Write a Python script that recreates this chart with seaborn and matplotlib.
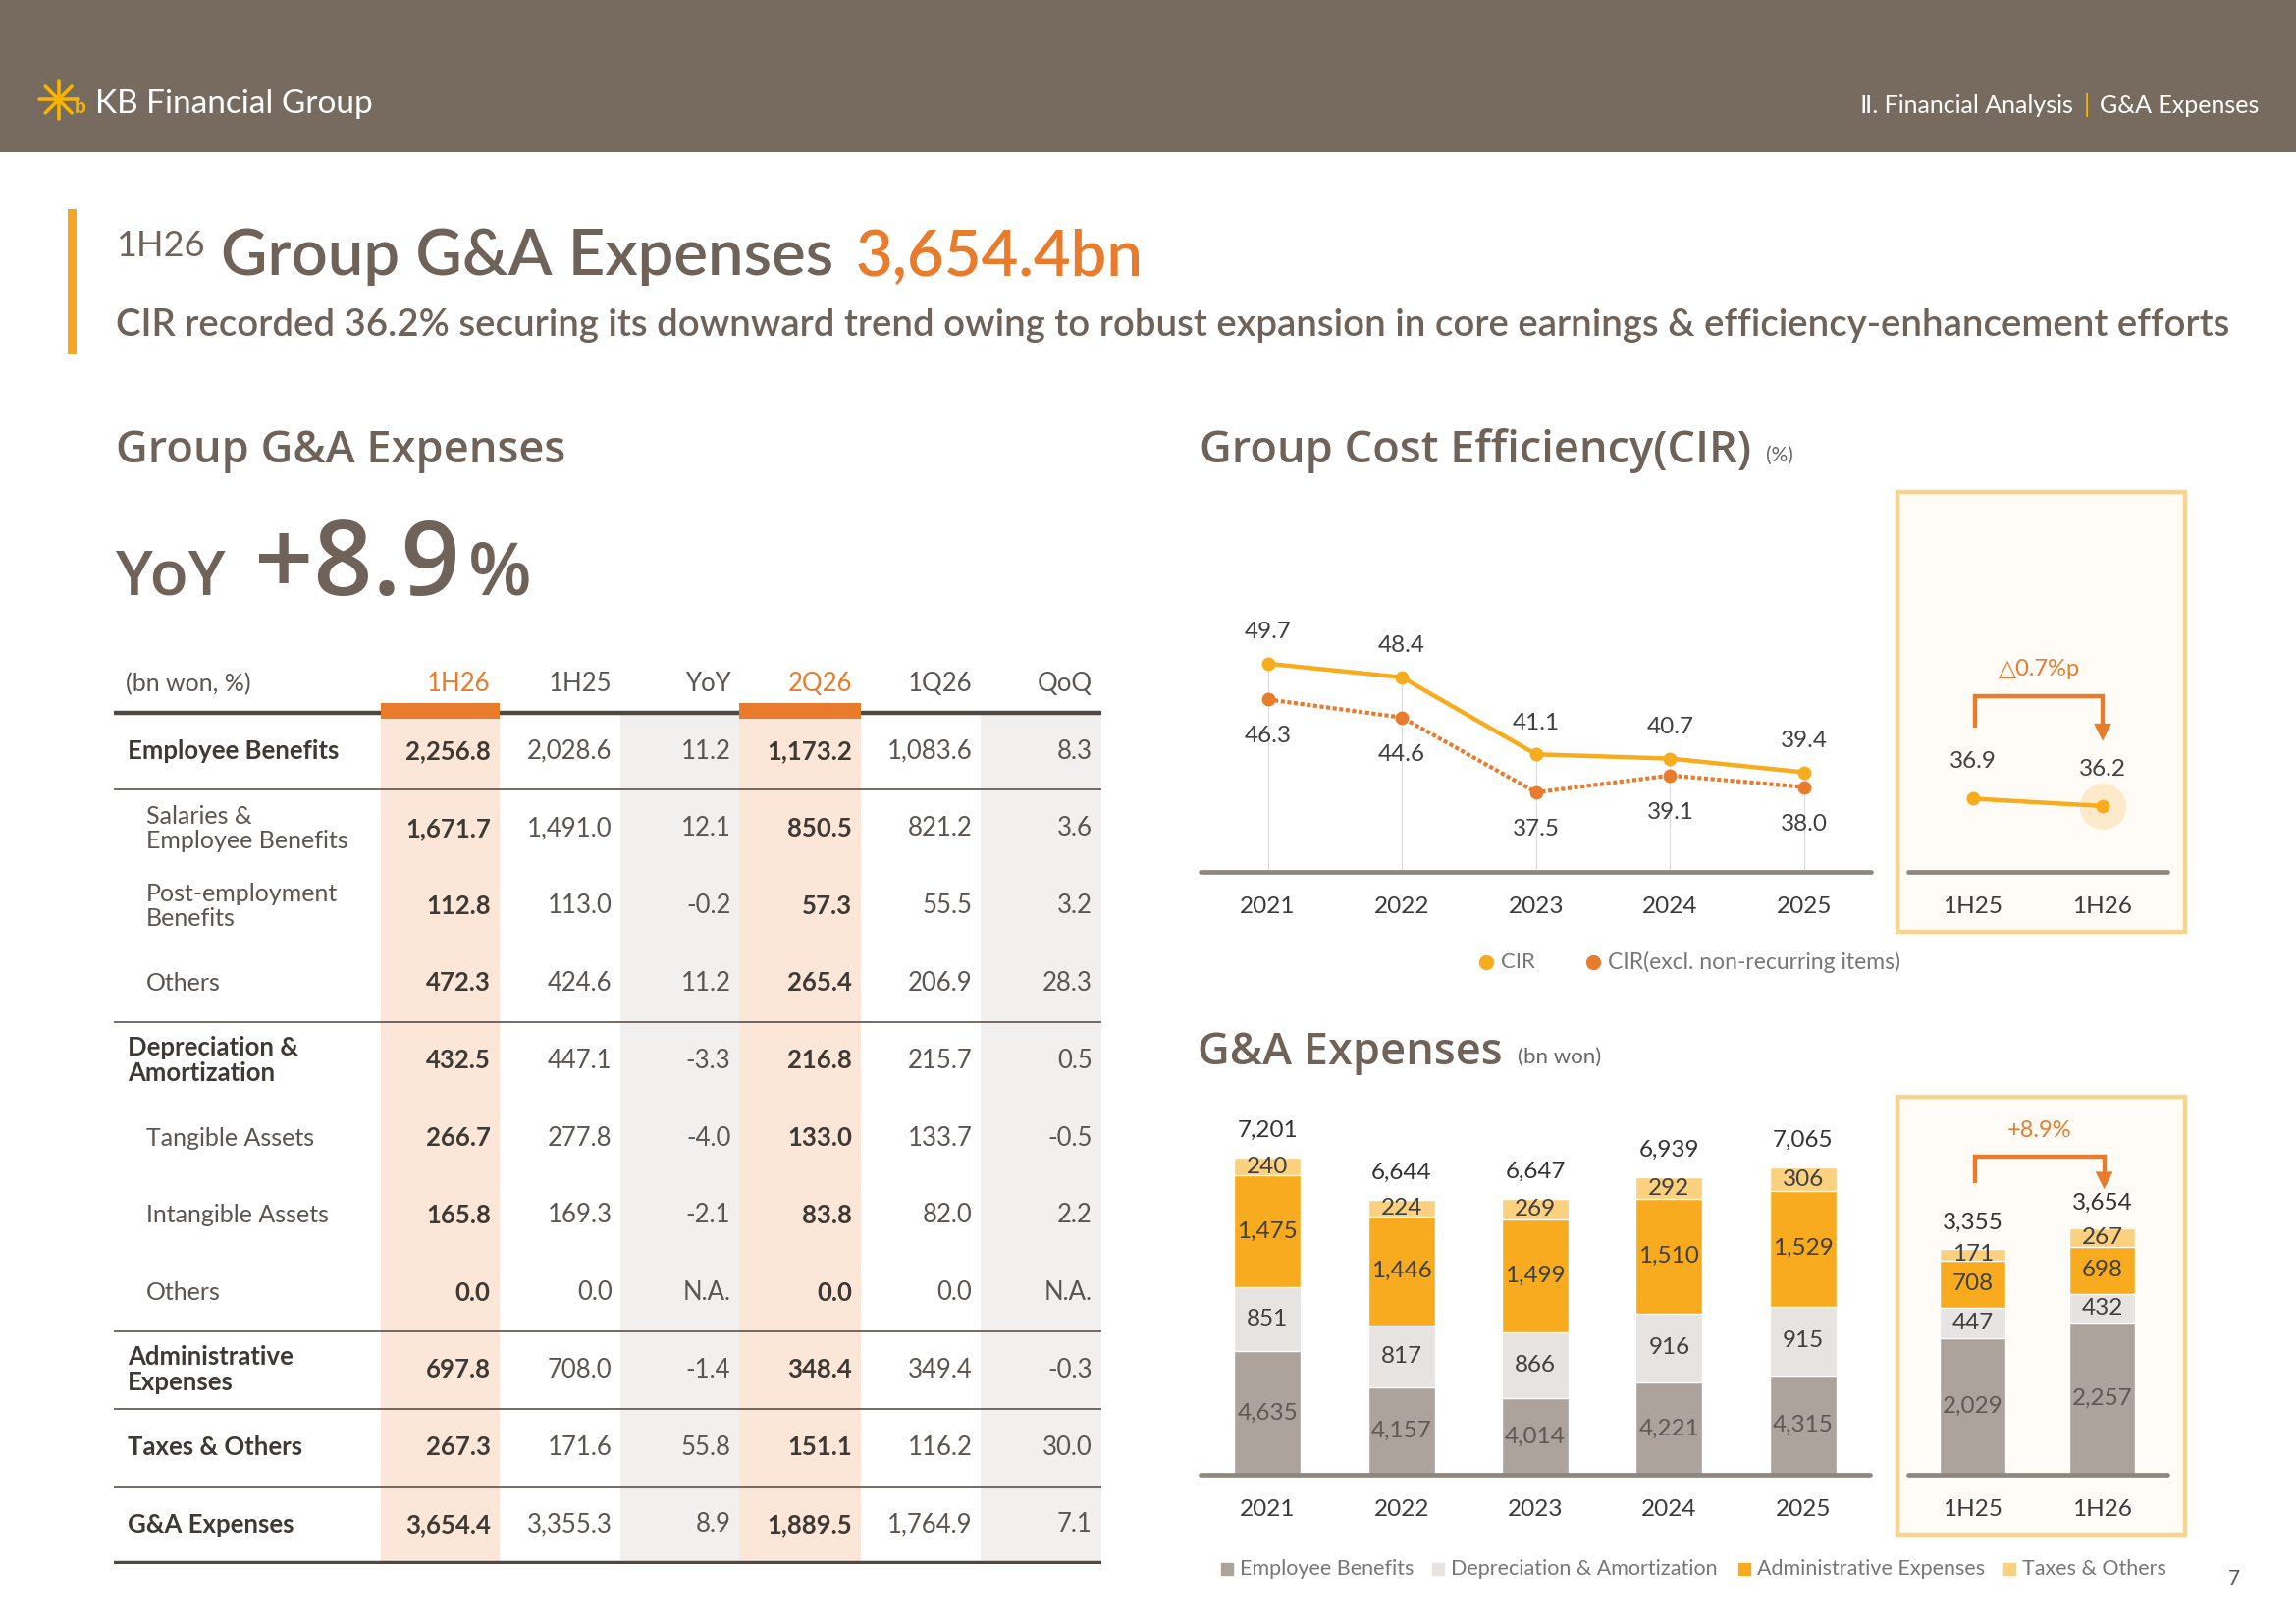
import numpy as np
import pandas as pd
import seaborn as sns
import matplotlib.pyplot as plt
from matplotlib.patches import Rectangle

# ---- data ----
years = ['2021', '2022', '2023', '2024', '2025']
cir = [49.7, 48.4, 41.1, 40.7, 39.4]
cir_excl = [46.3, 44.6, 37.5, 39.1, 38.0]
half_labels = ['1H25', '1H26']
cir_half = [36.9, 36.2]

emp_benefits = [4635, 4157, 4014, 4221, 4315]
depreciation = [851, 817, 866, 916, 915]
admin_exp = [1475, 1446, 1499, 1510, 1529]
taxes_others = [240, 224, 269, 292, 306]
totals = [7201, 6644, 6647, 6939, 7065]

half_emp = [2029, 2257]
half_dep = [447, 432]
half_admin = [708, 698]
half_taxes = [171, 267]
half_totals = [3355, 3654]

table_cols = ['1H26', '1H25', 'YoY', '2Q26', '1Q26', 'QoQ']
table_rows = ['Employee Benefits', 'Salaries &\nEmployee Benefits', 'Post-employment\nBenefits', 'Others',
              'Depreciation &\nAmortization', 'Tangible Assets', 'Intangible Assets', 'Others',
              'Administrative\nExpenses', 'Taxes & Others', 'G&A Expenses']
row_is_main = [True, False, False, False, True, False, False, False, True, True, True]
table_values = [
    ['2,256.8', '2,028.6', '11.2', '1,173.2', '1,083.6', '8.3'],
    ['1,671.7', '1,491.0', '12.1', '850.5', '821.2', '3.6'],
    ['112.8', '113.0', '-0.2', '57.3', '55.5', '3.2'],
    ['472.3', '424.6', '11.2', '265.4', '206.9', '28.3'],
    ['432.5', '447.1', '-3.3', '216.8', '215.7', '0.5'],
    ['266.7', '277.8', '-4.0', '133.0', '133.7', '-0.5'],
    ['165.8', '169.3', '-2.1', '83.8', '82.0', '2.2'],
    ['0.0', '0.0', 'N.A.', '0.0', '0.0', 'N.A.'],
    ['697.8', '708.0', '-1.4', '348.4', '349.4', '-0.3'],
    ['267.3', '171.6', '55.8', '151.1', '116.2', '30.0'],
    ['3,654.4', '3,355.3', '8.9', '1,889.5', '1,764.9', '7.1'],
]

# ---- colours ----
BROWN = '#776B5F'
TITLE = '#6E6259'
ORANGE = '#E97B2C'
YELLOW = '#F6AC1D'
C_EMP, C_DEP, C_ADM, C_TAX = '#ABA39C', '#E6E3E0', '#F8AB1E', '#FBD07F'
DARK = '#3D3935'
MID = '#5A5550'
OPEN = ['Open Sans', 'DejaVu Sans']

sns.set_style('white')
plt.rcParams['font.family'] = ['Lato', 'DejaVu Sans']

W, H = 1568, 1108.8
fig = plt.figure(figsize=(23.39, 16.54), dpi=100)
renderer = fig.canvas.get_renderer()


def add_ax(x0, y0, x1, y1):
    return fig.add_axes([x0 / W, 1 - y1 / H, (x1 - x0) / W, (y1 - y0) / H])


bg = fig.add_axes([0, 0, 1, 1])
bg.set_xlim(0, W)
bg.set_ylim(H, 0)
bg.axis('off')


def edges(t):
    bb = t.get_window_extent(renderer)
    inv = bg.transData.inverted()
    return inv.transform((bb.x0, bb.y0))[0], inv.transform((bb.x1, bb.y0))[0]


def after(t, gap, y, s, **kw):
    return bg.text(edges(t)[1] + gap, y, s, va='baseline', **kw)


def before(t, gap, y, s, **kw):
    return bg.text(edges(t)[0] - gap, y, s, va='baseline', ha='right', **kw)


# header band
bg.add_patch(Rectangle((0, 0), W, 104, color=BROWN, lw=0))
for dx, dy in [(-13, 0), (-9, -9), (-9, 9), (0, -13)]:
    bg.plot([40 - dx, 40 + dx], [68 - dy, 68 + dy], color='#F7B500', lw=2.6, solid_capstyle='round')
bg.text(51, 73, 'b', color='#F7B500', fontsize=15, fontweight='bold', va='center')
bg.text(65, 77, 'KB Financial Group', color='white', fontsize=24, va='baseline')
t = bg.text(1543, 77, 'G&A Expenses', color='white', fontsize=18, va='baseline', ha='right')
t = before(t, 7, 77, '|', color='#F7B500', fontsize=18)
before(t, 7, 77, 'Ⅱ. Financial Analysis', color='white', fontsize=18)

# headline
bg.add_patch(Rectangle((46, 143), 6, 99, color='#F5A623', lw=0))
t = bg.text(79, 175, '1H26', color=TITLE, fontsize=26, va='baseline')
t = after(t, 11, 188, 'Group G&A Expenses', color=TITLE, fontsize=47, fontweight='semibold')
after(t, 15, 188, '3,654.4bn', color=ORANGE, fontsize=47, fontweight='semibold')
bg.text(79, 229, 'CIR recorded 36.2% securing its downward trend owing to robust expansion in core earnings '
        '& efficiency-enhancement efforts', color=TITLE, fontsize=27.6, va='baseline', fontweight='semibold')

# section titles
t = bg.text(79, 316, 'Group G&A Expenses', color=TITLE, fontsize=32.5, va='baseline',
            fontweight='semibold', family=OPEN)
t = bg.text(819, 316, 'Group Cost Efficiency(CIR)', color=TITLE, fontsize=32.5, va='baseline',
            fontweight='semibold', family=OPEN)
after(t, 10, 315, '(%)', color='#666666', fontsize=15)
t = bg.text(818, 727, 'G&A Expenses', color=TITLE, fontsize=32.5, va='baseline',
            fontweight='semibold', family=OPEN)
after(t, 10, 726, '(bn won)', color='#666666', fontsize=16)

t = bg.text(79, 406, 'YoY', color=TITLE, fontsize=46, va='baseline', fontweight='semibold', family=OPEN)
t = after(t, 20, 406, '+8.9', color=TITLE, fontsize=76, fontweight='semibold', family=OPEN)
after(t, 5, 406, '%', color=TITLE, fontsize=54, fontweight='semibold', family=OPEN)

# ---- table ----
col_edges = [78, 260, 341, 424, 505, 588, 670, 752]
tab = add_ax(78, 440, 752, 1068)
tab.set_xlim(78, 752)
tab.set_ylim(10.51, -1.38)
tab.axis('off')
n_rows = len(table_rows)
for j, name in enumerate(table_cols):
    x0, x1 = col_edges[j + 1], col_edges[j + 2]
    hc = MID
    if name in ('1H26', '2Q26'):
        tab.add_patch(Rectangle((x0, -0.5), x1 - x0, n_rows, color='#FCE6D8', lw=0, zorder=0))
        tab.add_patch(Rectangle((x0, -0.62), x1 - x0, 0.2, color=ORANGE, lw=0, zorder=3))
        hc = ORANGE
    elif name in ('YoY', 'QoQ'):
        tab.add_patch(Rectangle((x0, -0.5), x1 - x0, n_rows, color='#F2F0EE', lw=0, zorder=0))
    tab.text(x1 - 6, -0.87, name, ha='right', va='center', fontsize=18.5, color=hc)
tab.text(86, -0.87, '(bn won, %)', ha='left', va='center', fontsize=18, color=MID)
tab.plot([78, 752], [-0.5, -0.5], color='#4F4741', lw=3.2, zorder=2, solid_capstyle='butt')
tab.plot([78, 752], [n_rows - 0.5, n_rows - 0.5], color='#4F4741', lw=3.2, zorder=2, solid_capstyle='butt')
for i, (label, main) in enumerate(zip(table_rows, row_is_main)):
    if main and i > 0:
        tab.plot([78, 752], [i - 0.5, i - 0.5], color='#5A524C', lw=1.2, zorder=2)
    if i == 0:
        tab.plot([78, 752], [0.5, 0.5], color='#5A524C', lw=1.2, zorder=2)
    tab.text(87 if main else 100, i, label, ha='left', va='center', fontsize=18.5 if main else 18,
             color=DARK if main else MID, fontweight='bold' if main else 'normal', linespacing=1.1)
    for j, val in enumerate(table_values[i]):
        bold = table_cols[j] in ('1H26', '2Q26')
        tab.text(col_edges[j + 2] - 6, i, val, ha='right', va='center', fontsize=18.5,
                 color=DARK if bold else MID, fontweight='bold' if bold else 'normal')

# ---- inset frames ----
for y0, y1 in [(336, 636), (749, 1048)]:
    bg.add_patch(Rectangle((1296, y0), 196, y1 - y0, facecolor='#FFFCF7', edgecolor='#F9D48C', lw=3.2))


def clean(ax, ybottom):
    for s in ax.spines.values():
        s.set_visible(False)
    ax.patch.set_alpha(0)
    ax.set_yticks([])
    ax.set_xlabel('')
    ax.set_ylabel('')
    ax.axhline(ybottom, color='#8E8780', lw=3.4, clip_on=False, zorder=5)
    ax.tick_params(axis='x', length=0, labelsize=17.5, labelcolor='#3A3A3A', pad=18)


LBL = 17.5

# ---- CIR line chart ----
x_pos = list(range(len(years)))
ax1 = add_ax(820, 380, 1278, 595)
ax1.vlines(x_pos, 30, cir, color='#DADADA', lw=0.8, zorder=0)
sns.lineplot(x=x_pos, y=cir_excl, ax=ax1, color=ORANGE, lw=3, linestyle=(0, (1, 0.6)),
             marker='o', markersize=10, markeredgewidth=0)
sns.lineplot(x=x_pos, y=cir, ax=ax1, color=YELLOW, lw=3.2, marker='o', markersize=10, markeredgewidth=0)
ax1.set_xlim(-0.5, 4.5)
ax1.set_ylim(30, 59.84)
ax1.set_xticks(x_pos, years)
clean(ax1, 30)
for i in x_pos:
    ax1.annotate(f'{cir[i]:.1f}', (i, cir[i]), xytext=(0, 23), textcoords='offset points',
                 ha='center', va='center', fontsize=LBL, color='#404040')
    ax1.annotate(f'{cir_excl[i]:.1f}', (i, cir_excl[i]), xytext=(0, -27), textcoords='offset points',
                 ha='center', va='center', fontsize=LBL, color='#404040')

ax2 = add_ax(1303, 380, 1480, 595)
ax2.scatter([1], [cir_half[1]], s=1150, color='#FDEACB', zorder=1, linewidths=0)
sns.lineplot(x=[0, 1], y=cir_half, ax=ax2, color=YELLOW, lw=3.2, marker='o', markersize=10,
             markeredgewidth=0, zorder=3)
ax2.set_xlim(-0.5, 1.5)
ax2.set_ylim(30, 59.84)
ax2.set_xticks([0, 1], half_labels)
clean(ax2, 30)
for i in range(2):
    ax2.annotate(f'{cir_half[i]:.1f}', (i, cir_half[i]), xytext=(0, 27), textcoords='offset points',
                 ha='center', va='center', fontsize=LBL, color='#404040')

# legend for CIR
bg.plot([1015], [657], 'o', color=YELLOW, markersize=10)
bg.text(1025, 657, 'CIR', fontsize=16, color='#777777', va='center')
bg.plot([1088], [657], 'o', color=ORANGE, markersize=10)
bg.text(1098, 657, 'CIR(excl. non-recurring items)', fontsize=16.5, color='#777777', va='center')


def bracket(x0, x1, ytop, ystart, yend, label):
    bg.plot([x0, x0, x1, x1], [ystart, ytop, ytop, yend - 11], color=ORANGE, lw=3.2,
            solid_joinstyle='miter', solid_capstyle='butt')
    bg.fill([x1 - 6, x1 + 6, x1], [yend - 12, yend - 12, yend], color=ORANGE, lw=0)
    bg.text((x0 + x1) / 2, ytop - 18, label, ha='center', va='center', fontsize=17, color=ORANGE)


bracket(1349, 1436, 475, 497, 506, '△0.7%p')

# ---- G&A stacked bars ----
c1 = np.array(emp_benefits)
c2 = c1 + np.array(depreciation)
c3 = c2 + np.array(admin_exp)
c4 = c3 + np.array(taxes_others)
ax3 = add_ax(820, 750, 1277, 1007)
for cum, col in [(c4, C_TAX), (c3, C_ADM), (c2, C_DEP), (c1, C_EMP)]:
    sns.barplot(x=years, y=cum, color=col, width=0.5, saturation=1, errorbar=None, ax=ax3)
ymin3 = 3000
ax3.set_xlim(-0.5, 4.5)
ax3.set_ylim(ymin3, 7981)
clean(ax3, ymin3)
lab = dict(ha='center', va='center', fontsize=LBL)
for i in range(len(years)):
    ax3.text(i, (ymin3 + c1[i]) / 2, f'{emp_benefits[i]:,}', color='#5E5953', **lab)
    ax3.text(i, c1[i] + depreciation[i] / 2, f'{depreciation[i]:,}', color='#404040', **lab)
    ax3.text(i, c2[i] + admin_exp[i] / 2, f'{admin_exp[i]:,}', color='#404040', **lab)
    ax3.text(i, c3[i] + taxes_others[i] / 2, f'{taxes_others[i]:,}', color='#404040', **lab)
    ax3.annotate(f'{totals[i]:,}', (i, c4[i]), xytext=(0, 20), textcoords='offset points',
                 color='#333333', **lab)

h1 = np.array(half_emp)
h2 = h1 + np.array(half_dep)
h3 = h2 + np.array(half_admin)
h4 = h3 + np.array(half_taxes)
ax4 = add_ax(1303, 750, 1480, 1007)
for cum, col in [(h4, C_TAX), (h3, C_ADM), (h2, C_DEP), (h1, C_EMP)]:
    sns.barplot(x=half_labels, y=cum, color=col, width=0.51, saturation=1, errorbar=None, ax=ax4)
ax4.set_xlim(-0.5, 1.5)
ax4.set_ylim(0, 5587)
clean(ax4, 0)
for i in range(2):
    ax4.text(i, h1[i] / 2, f'{half_emp[i]:,}', color='#5E5953', **lab)
    ax4.text(i, h1[i] + half_dep[i] / 2, f'{half_dep[i]:,}', color='#404040', **lab)
    ax4.text(i, h2[i] + half_admin[i] / 2, f'{half_admin[i]:,}', color='#404040', **lab)
    ax4.text(i, h3[i] + half_taxes[i] / 2, f'{half_taxes[i]:,}', color='#404040', **lab)
    ax4.annotate(f'{half_totals[i]:,}', (i, h4[i]), xytext=(0, 19), textcoords='offset points',
                 color='#333333', **lab)

bracket(1349, 1437, 790, 808, 812, '+8.9%')

# legend for bars
for x, col, name in [(838, C_EMP, 'Employee Benefits'), (982, C_DEP, 'Depreciation & Amortization'),
                     (1191, C_ADM, 'Administrative Expenses'), (1372, C_TAX, 'Taxes & Others')]:
    bg.plot([x], [1071], 's', color=col, markersize=9)
    bg.text(x + 9, 1071, name, fontsize=15.5, color='#777777', va='center')

bg.text(1526, 1078, '7', fontsize=15, color='#555555', va='center', ha='center')

fig.savefig('out.png', dpi=100)
